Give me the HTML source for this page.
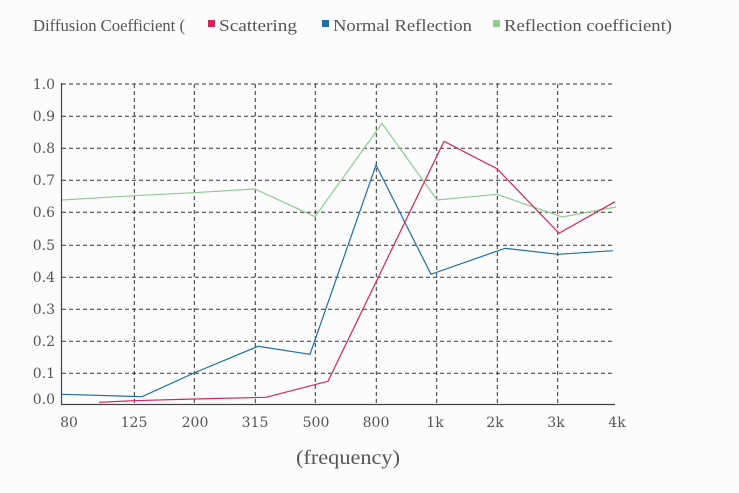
<!DOCTYPE html>
<html><head><meta charset="utf-8"><style>body{margin:0;background:#fdfcfd}svg{display:block}</style></head><body>
<svg width="739" height="493" xmlns="http://www.w3.org/2000/svg" font-family="Liberation Serif, serif" fill="#555">
<rect width="739" height="493" fill="#fdfcfd"/>
<g font-size="17">
<text x="33" y="31" textLength="152" lengthAdjust="spacingAndGlyphs">Diffusion Coefficient (</text>
<rect x="208" y="20" width="7" height="7" fill="#d6245a"/>
<text x="219" y="31" textLength="78" lengthAdjust="spacingAndGlyphs">Scattering</text>
<rect x="322" y="20" width="7" height="7" fill="#1f6ea8"/>
<text x="333" y="31" textLength="139" lengthAdjust="spacingAndGlyphs">Normal Reflection</text>
<rect x="493" y="20" width="7" height="7" fill="#8fcc93"/>
<text x="504" y="31" textLength="168" lengthAdjust="spacingAndGlyphs">Reflection coefficient)</text>
</g>
<g stroke="#333" stroke-width="1" stroke-dasharray="4,3" fill="none">
<path d="M62 84H615M62 116.3H615M62 148.3H615M62 180.3H615M62 212.3H615M62 245.3H615M62 277.3H615M62 309.3H615M62 341.3H615M62 373.3H615"/>
<path d="M134.3 84V404M194.3 84V404M255.3 84V404M315.3 84V404M376.3 84V404M436.7 84V404M497.3 84V404M557.7 84V404"/>
</g>
<path d="M61.5 83V404.5H615" stroke="#444" stroke-width="1.2" fill="none"/>
<g font-size="14" font-family="DejaVu Serif, serif" text-anchor="end">
<text x="55" y="89">1.0</text><text x="55" y="121">0.9</text><text x="55" y="153">0.8</text><text x="55" y="185">0.7</text><text x="55" y="217">0.6</text><text x="55" y="250">0.5</text><text x="55" y="282">0.4</text><text x="55" y="314">0.3</text><text x="55" y="346">0.2</text><text x="55" y="378">0.1</text><text x="55" y="404">0.0</text>
</g>
<g font-size="14" font-family="DejaVu Serif, serif" text-anchor="middle">
<text x="69" y="427">80</text><text x="134" y="427">125</text><text x="195" y="427">200</text><text x="255" y="427">315</text><text x="316" y="427">500</text><text x="376" y="427">800</text><text x="435" y="427">1k</text><text x="495" y="427">2k</text><text x="556" y="427">3k</text><text x="617" y="427">4k</text>
</g>
<text x="296" y="464" font-size="20" textLength="104" lengthAdjust="spacingAndGlyphs">(frequency)</text>
<g fill="none" stroke-width="1.2">
<polyline stroke="#8fcc93" points="62,200 134,195.7 194,192.7 255,189 315,216.7 382,123.3 437,200 497,194.3 562,217 616,207"/>
<polyline stroke="#1f6ea8" points="62,394.3 142,396.7 194,373 258,346.3 310,354.3 376,165 431,274.3 505,248.3 558,254.3 613,250.7"/>
<polyline stroke="#d6245a" points="99,402.3 134,400.7 194,399 266,397.3 328,381.3 444,141.3 497,168.7 559,233.3 615,201.7"/>
</g>
</svg>
</body></html>
